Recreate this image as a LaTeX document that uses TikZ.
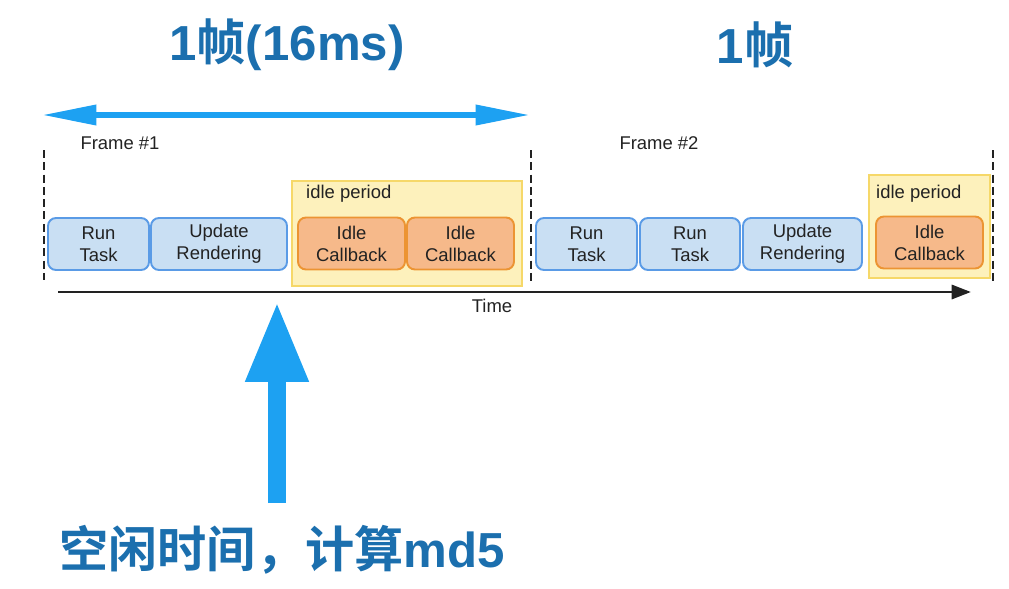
\documentclass[tikz,border=0pt]{standalone}
\usepackage{fontspec}
\setmainfont{Liberation Sans}
\newfontfamily\cjk{Noto Sans CJK SC}[BoldFont={Noto Sans CJK SC Bold}]
\usetikzlibrary{arrows.meta}
\definecolor{taskfill}{HTML}{C9DFF3}
\definecolor{taskdraw}{HTML}{5A9BE6}
\definecolor{cbfill}{HTML}{F6B98A}
\definecolor{cbdraw}{HTML}{EC9433}
\definecolor{idlefill}{HTML}{FDF1BC}
\definecolor{idledraw}{HTML}{F6D869}
\definecolor{headblue}{HTML}{1B6FAE}
\definecolor{pointer}{HTML}{1DA1F2}
\definecolor{ink}{HTML}{222222}
\tikzset{
  task/.style={draw=taskdraw, fill=taskfill, line width=1.1pt, rounded corners=4.5pt,
    minimum height=1.04cm, inner sep=0pt, align=center, text=ink,
    font=\fontsize{10.5}{12.5}\selectfont},
  cb/.style={task, draw=cbdraw, fill=cbfill},
  idle/.style={draw=idledraw, fill=idlefill, line width=0.8pt, inner sep=0pt},
  lab/.style={text=ink, font=\fontsize{10.5}{12.5}\selectfont},
  headline/.style={text=headblue, font=\bfseries\fontsize{28}{32}\selectfont},
  fsep/.style={draw=ink, line width=1.1pt, dash pattern=on 4.5pt off 2.5pt},
  span/.style={draw=pointer, line width=3.4pt, {Triangle[length=31pt,width=11pt]}-{Triangle[length=31pt,width=11pt]}},
  axis/.style={draw=ink, line width=1.7pt, -{Triangle[length=11pt,width=8pt]}},
  big/.style={draw=pointer, line width=10.8pt, -{Triangle[length=46pt,width=33pt]}},
}
\begin{document}
\begin{tikzpicture}[x=0.02cm, y=-0.02cm]
  \useasboundingbox (0,0) rectangle (1009,589);

  \node[headline] (t1) at (287,45) {1{\cjk 帧}(16ms)};
  \node[headline] (t2) at (755,45) {1{\cjk 帧}};

  \coordinate (L) at (42,115);
  \coordinate (R) at (530,115);
  \draw[span] (L) -- (R);

  \node[lab] (f1) at (120,143) {Frame \#1};
  \node[lab] (f2) at (659,143) {Frame \#2};

  % frame borders
  \coordinate (s1a) at (44,150);  \coordinate (s1b) at (44,280);
  \coordinate (s2a) at (531,150); \coordinate (s2b) at (531,285);
  \coordinate (s3a) at (993,150); \coordinate (s3b) at (993,283);
  \draw[fsep] (s1a) -- (s1b);
  \draw[fsep] (s2a) -- (s2b);
  \draw[fsep] (s3a) -- (s3b);

  % idle periods
  \node[idle, minimum width=4.6cm, minimum height=2.1cm] (p1) at (407,233.5) {};
  \node[idle, minimum width=2.42cm, minimum height=2.06cm] (p2) at (929.5,226.5) {};
  \node[lab, anchor=west] (p1lab) at (300,194) {idle period};
  \node[lab, anchor=west] (p2lab) at (870,194) {idle period};

  \node[task, minimum width=2.02cm] (rt1) at (98.5,244) {Run\\Task};
  \node[task, minimum width=2.72cm] (ur1) at (219,244) {Update\\Rendering};
  \node[cb, minimum width=2.14cm] (ic1) at (351.5,243.5) {Idle\\Callback};
  \node[cb, minimum width=2.14cm] (ic2) at (460.5,243.5) {Idle\\Callback};

  \node[task, minimum width=2.02cm] (rt2) at (586.5,244) {Run\\Task};
  \node[task, minimum width=2.0cm] (rt3) at (690,244) {Run\\Task};
  \node[task, minimum width=2.38cm] (ur2) at (802.5,244) {Update\\Rendering};
  \node[cb, minimum width=2.14cm] (ic3) at (929.5,242.5) {Idle\\Callback};

  \coordinate (T0) at (58,292);
  \coordinate (T1) at (971,292);
  \draw[axis] (T0) -- (T1);
  \node[lab] (time) at (492,306) {Time};

  \coordinate (P0) at (277,503);
  \coordinate (P1) at (277,301);
  \draw[big] (P0) -- (P1);

  \node[headline] (note) at (282,550) {{\cjk 空闲时间，计算}md5};
\end{tikzpicture}
\end{document}
